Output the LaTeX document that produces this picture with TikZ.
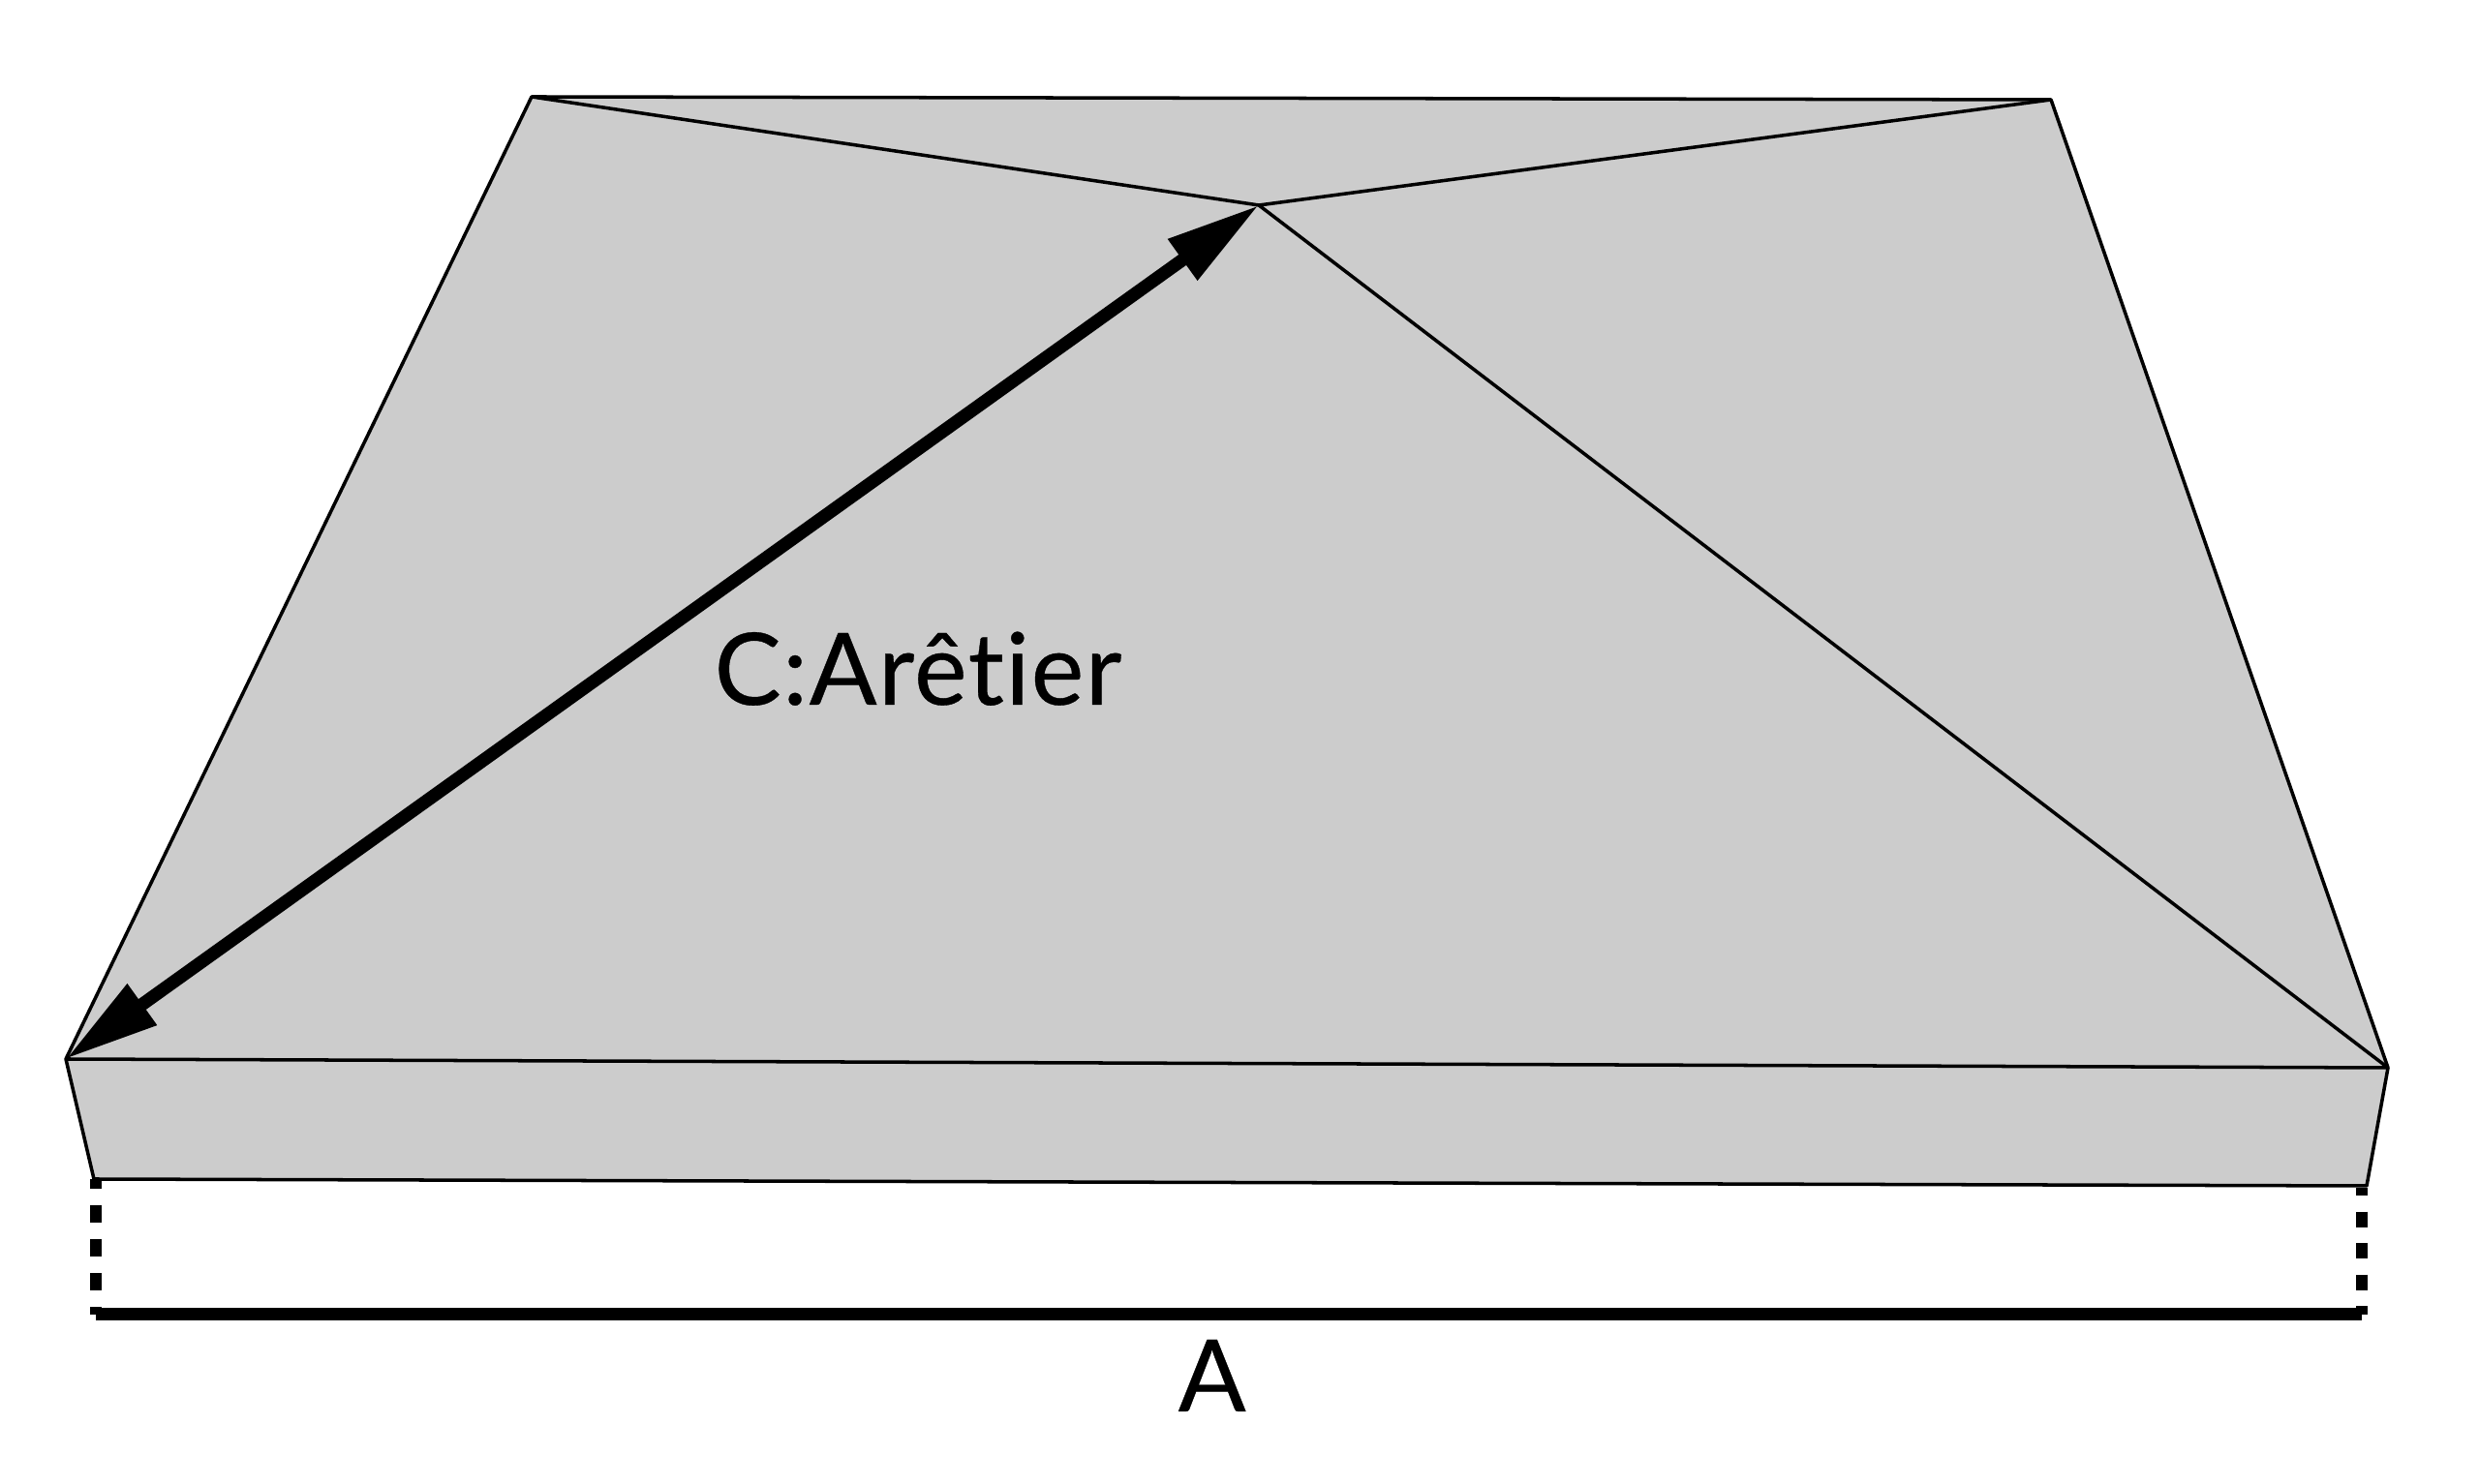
\documentclass[tikz,border=0pt]{standalone}
\usepackage{fontspec}
\setmainfont{Lato}[Ligatures=NoCommon,FakeBold=.35,LetterSpace=1.5]
\usetikzlibrary{arrows.meta}
\definecolor{roofgray}{HTML}{CCCCCC}
\tikzset{
  edgeline/.style = {draw = black, line width = 1pt, line join = round},
  measureline/.style = {line width = 3.7pt},
  tickline/.style = {line width = 3.55pt, dash pattern = on #1 off #1, dash phase = 2.2pt},
  hipline/.style = {line width = 3.8pt, {Triangle[length = .97cm, width = .49cm]}-{Triangle[length = .97cm, width = .49cm]}},
  bigtext/.style = {anchor = base west, inner sep = 0pt, font = \fontsize{29.4}{36}\selectfont}
}
\begin{document}
\begin{tikzpicture}
\useasboundingbox (0,0) rectangle (25.6,15.33);
% roof corners
\coordinate (topleft) at (5.49,14.33);
\coordinate (topright) at (21.18,14.30);
\coordinate (apex) at (13.00,13.21);
\coordinate (eaveleft) at (.68,4.39);
\coordinate (eaveright) at (24.66,4.30);
\coordinate (baseleft) at (.97,3.15);
\coordinate (baseright) at (24.44,3.08);
\coordinate (dimleft) at (.99,1.75);
\coordinate (dimright) at (24.39,1.75);
\coordinate (tickleft) at (.99,3.15);
\coordinate (tickright) at (24.39,3.06);
% faces
\fill[roofgray] (topleft) -- (topright) -- (eaveright) -- (baseright) -- (baseleft) -- (eaveleft) -- cycle;
\draw[edgeline] (topleft) -- (topright) -- (eaveright) -- (baseright) -- (baseleft) -- (eaveleft) -- cycle;
\draw[edgeline] (eaveleft) -- (eaveright);
\draw[edgeline] (topleft) -- (apex) -- (topright);
\draw[edgeline] (apex) -- (eaveright);
% dimension
\draw[tickline = 4.98pt] (tickleft) -- (dimleft);
\draw[tickline = 4.62pt] (tickright) -- (dimright);
\draw[measureline] (dimleft) -- (dimright);
% hip
\draw[hipline] (eaveleft) -- (apex);
\node[bigtext] (hiplabel) at (7.37,8.05) {C:Arêtier};
\node[bigtext] (widthlabel) at (12.16,.75) {A};
\end{tikzpicture}
\end{document}
